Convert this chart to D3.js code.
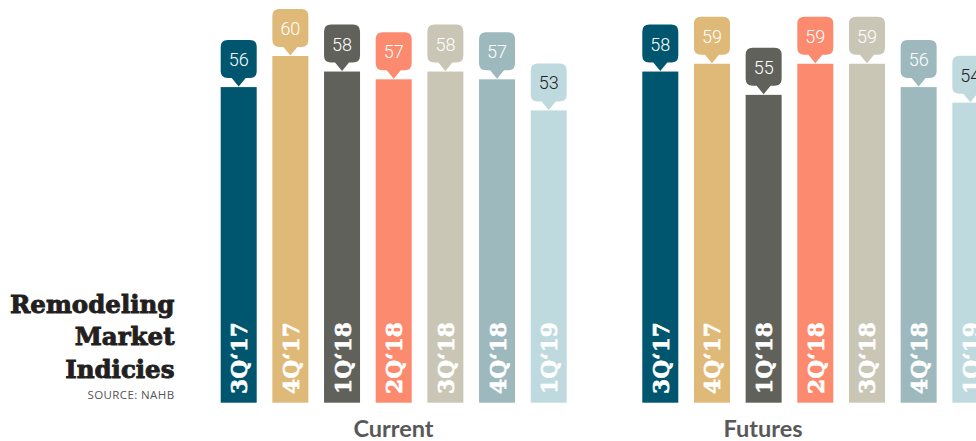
<!DOCTYPE html>
<html>
<head>
<meta charset="utf-8">
<script src="https://cdn.jsdelivr.net/npm/d3@7"></script>
<style>
  body { margin: 0; background: #fff; }
  svg { display: block; }
</style>
</head>
<body>
<svg width="976" height="441"></svg>
<script>
var quarters = ['3Q\u201817', '4Q\u201817', '1Q\u201818', '2Q\u201818', '3Q\u201818', '4Q\u201818', '1Q\u201819'];
var current = [56, 60, 58, 57, 58, 57, 53];
var futures = [58, 59, 55, 59, 59, 56, 54];
var colors = ['#01566f', '#dfb978', '#61615b', '#fb8a6f', '#c9c6b6', '#9db9bd', '#bfdadf'];
var valueInk = ['#fff', '#fff', '#fff', '#fff', '#fff', '#fff', '#222'];
var titleLines = ['Remodeling', 'Market', 'Indicies'];

var BAR_W = 36;
var STEP = 51.67;
var BASE = 402.7;

var svg = d3.select('svg');

var y = d3.scaleLinear().domain([15.4, 60]).range([BASE, 56]);

// one group of bars with callouts
function drawGroup (values, x0, name, nameX) {
  var x = d3.scaleBand()
    .domain(quarters)
    .range([x0, x0 + 6 * STEP + BAR_W])
    .paddingInner(1 - BAR_W / STEP)
    .paddingOuter(0);

  var g = svg.append('g');
  var bars = g.selectAll('g.bar')
    .data(values.map(function (v, i) { return { q: quarters[i], v: v, i: i }; }))
    .enter().append('g')
    .attr('class', 'bar');

  bars.append('rect')
    .attr('x', function (d) { return x(d.q); })
    .attr('y', function (d) { return y(d.v); })
    .attr('width', x.bandwidth())
    .attr('height', function (d) { return BASE - y(d.v); })
    .attr('fill', function (d) { return colors[d.i]; });

  // callout bubble: rounded box plus a pointer
  bars.append('path')
    .attr('fill', function (d) { return colors[d.i]; })
    .attr('d', function (d) {
      var l = x(d.q), r = l + x.bandwidth(), c = l + x.bandwidth() / 2;
      var tip = y(d.v) - 0.5, b = tip - 8.5, t = tip - 46.5, rad = 7;
      var p = d3.path();
      p.moveTo(l + rad, t);
      p.lineTo(r - rad, t);
      p.quadraticCurveTo(r, t, r, t + rad);
      p.lineTo(r, b - rad);
      p.quadraticCurveTo(r, b, r - rad, b);
      p.lineTo(c + 7, b);
      p.lineTo(c, tip);
      p.lineTo(c - 7, b);
      p.lineTo(l + rad, b);
      p.quadraticCurveTo(l, b, l, b - rad);
      p.lineTo(l, t + rad);
      p.quadraticCurveTo(l, t, l + rad, t);
      p.closePath();
      return p.toString();
    });

  bars.append('text')
    .attr('x', function (d) { return x(d.q) + x.bandwidth() / 2; })
    .attr('y', function (d) { return y(d.v) - 21; })
    .attr('text-anchor', 'middle')
    .attr('font-family', 'Roboto, "Liberation Sans", sans-serif')
    .attr('font-weight', 300)
    .attr('font-size', 18)
    .attr('fill', function (d) { return valueInk[d.i]; })
    .text(function (d) { return d.v; });

  // quarter label running up the bar
  bars.append('text')
    .attr('transform', function (d) {
      return 'translate(' + (x(d.q) + x.bandwidth() / 2 + 8.5) + ',' + 394 + ') rotate(-90)';
    })
    .attr('font-family', '"DejaVu Serif", serif')
    .attr('font-weight', 'bold')
    .attr('font-size', 23)
    .attr('textLength', 72)
    .attr('lengthAdjust', 'spacingAndGlyphs')
    .attr('fill', '#fff')
    .attr('stroke', '#fff')
    .attr('stroke-width', 0.6)
    .text(function (d) { return d.q; });

  svg.append('text')
    .attr('x', nameX)
    .attr('y', 437)
    .attr('text-anchor', 'middle')
    .attr('font-family', 'Lato, "Open Sans", sans-serif')
    .attr('font-weight', 'bold')
    .attr('font-size', 23.5)
    .attr('fill', '#58585a')
    .text(name);
}

drawGroup(current, 220.7, 'Current', 393.5);
drawGroup(futures, 642.3, 'Futures', 763);

svg.append('g').selectAll('text')
  .data(titleLines)
  .enter().append('text')
  .attr('x', 174.5)
  .attr('y', function (d, i) { return 312.5 + i * 32.5; })
  .attr('text-anchor', 'end')
  .attr('font-family', '"DejaVu Serif", serif')
  .attr('font-weight', 'bold')
  .attr('font-size', 24.5)
  .attr('fill', '#231f20')
  .attr('stroke', '#231f20')
  .attr('stroke-width', 0.9)
  .text(function (d) { return d; });

svg.append('text')
  .attr('x', 174.5)
  .attr('y', 399)
  .attr('text-anchor', 'end')
  .attr('font-family', '"Open Sans", sans-serif')
  .attr('font-size', 11.5)
  .attr('letter-spacing', 0.4)
  .attr('fill', '#555')
  .text('SOURCE: NAHB');
</script>
</body>
</html>
